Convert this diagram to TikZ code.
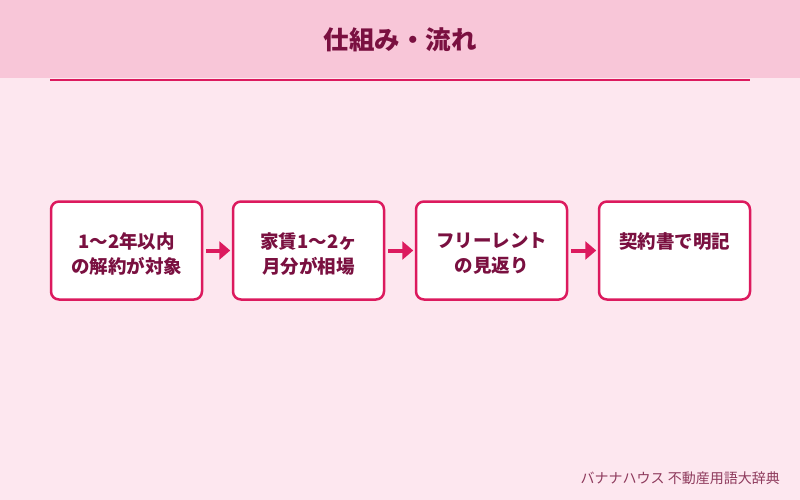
\documentclass[tikz,border=0pt]{standalone}
\usepackage{fontspec}
\setmainfont{Noto Sans CJK JP}
\usetikzlibrary{positioning,arrows.meta}
\definecolor{bgpink}{HTML}{FDE7EF}
\definecolor{bandpink}{HTML}{F8C6D8}
\definecolor{rosered}{HTML}{DC1A5E}
\definecolor{wine}{HTML}{7A1040}
\definecolor{footwine}{HTML}{8E3A5C}
\begin{document}
\begin{tikzpicture}[x=1pt, y=-1pt,
  stepbox/.style={draw=rosered, line width=2.5pt, rounded corners=8pt, fill=white,
                  minimum width=151pt, minimum height=98pt, inner sep=0pt},
  steptext/.style={font=\fontsize{18.5pt}{25.5pt}\selectfont\bfseries, text=wine,
                   align=center, anchor=north, inner sep=0pt, yshift=-32pt},
  arr/.style={-{Triangle[length=11pt, width=18pt]}, line width=4pt, draw=rosered,
              shorten <=3pt, shorten >=1.5pt},
]
% background and header
\fill[bgpink] (0,0) rectangle (800,500);
\fill[bandpink] (0,0) rectangle (800,78);
\node[font=\fontsize{25.5pt}{28pt}\selectfont\bfseries, text=wine] (title) at (400,40) {仕組み・流れ};
\draw[rosered, line width=2pt] (50,80) -- (750,80);

% steps
\node[stepbox] (lease) at (126.5,250.5) {};
\node[stepbox] (rent) at (308.5,250.5) {};
\node[stepbox] (free) at (491.5,250.5) {};
\node[stepbox] (contract) at (674.5,250.5) {};

\node[steptext] (leasetxt) at (lease.north) {1〜2年以内\\の解約が対象};
\node[steptext] (renttxt) at (rent.north) {家賃1〜2ヶ\\月分が相場};
\node[steptext] (freetxt) at (free.north) {フリーレント\\の見返り};
\node[steptext] (contracttxt) at (contract.north) {契約書で明記};

\draw[arr] (lease) -- (rent);
\draw[arr] (rent) -- (free);
\draw[arr] (free) -- (contract);

% footer
\node[font=\fontsize{14pt}{16pt}\selectfont, text=footwine, anchor=east, inner sep=0pt] (credit) at (780,478) {バナナハウス 不動産用語大辞典};
\end{tikzpicture}
\end{document}
